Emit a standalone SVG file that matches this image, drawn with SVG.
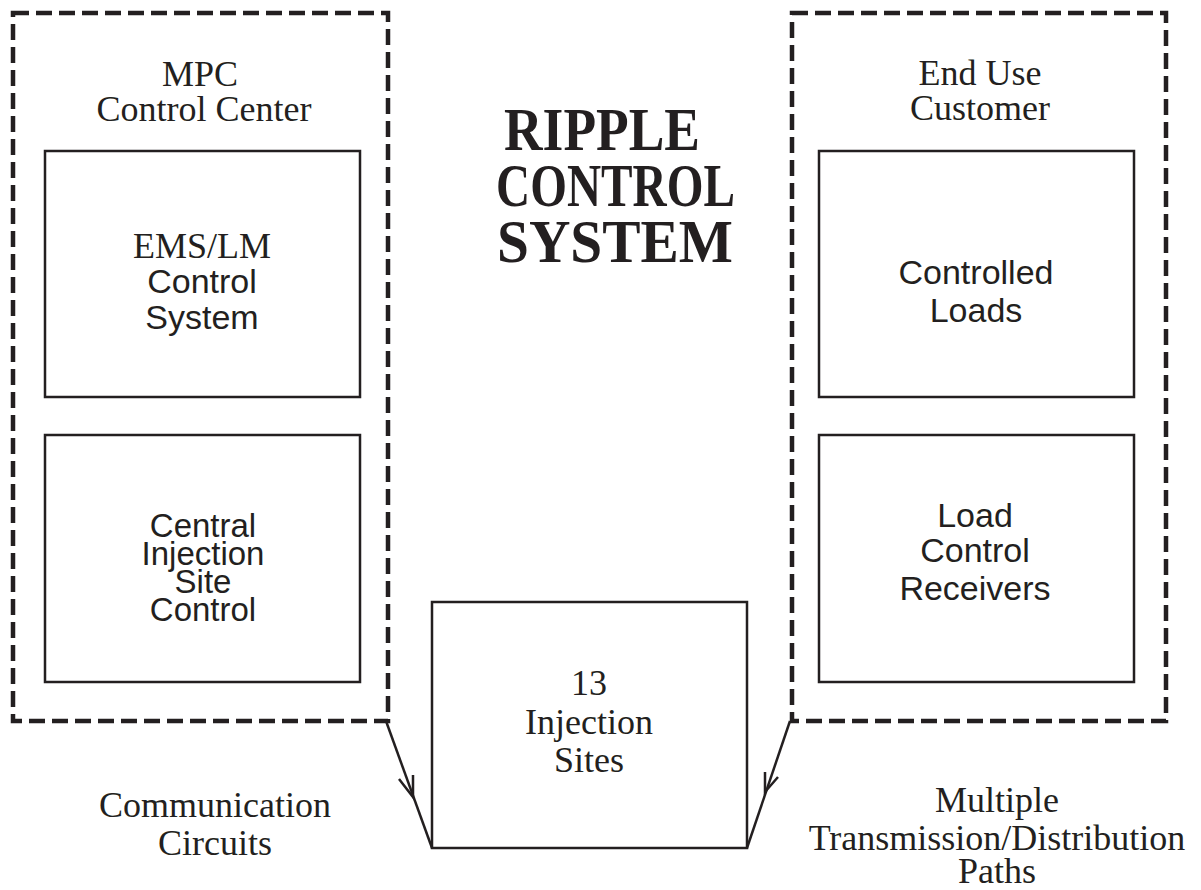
<svg xmlns="http://www.w3.org/2000/svg" width="1201" height="890" viewBox="0 0 1201 890">
  <style>
    .group { fill: none; stroke: #231f20; stroke-width: 4.5; stroke-dasharray: 16 7; }
    .box { fill: none; stroke: #231f20; stroke-width: 2.5; }
    .serif { font-family: "Liberation Serif", "Times New Roman", serif; font-size: 36px; fill: #231f20; text-anchor: middle; }
    .sans { font-family: "Liberation Sans", Arial, sans-serif; font-size: 34px; fill: #231f20; text-anchor: middle; }
    .tight { font-size: 33px; }
    .title { font-family: "Liberation Serif", "Times New Roman", serif; font-size: 61px; font-weight: bold; fill: #231f20; text-anchor: middle; }
    .link { fill: none; stroke: #231f20; stroke-width: 2.5; }
  </style>

  <!-- MPC control centre group -->
  <g id="mpc-control-center">
    <rect class="group" x="13" y="13" width="375" height="708"/>
    <text class="serif"><tspan x="200" y="86">MPC</tspan><tspan x="204" y="121">Control Center</tspan></text>
  </g>

  <g id="ems-lm">
    <rect class="box" x="45" y="151" width="315" height="246"/>
    <text class="serif" x="202" y="258">EMS/LM</text>
    <text class="sans"><tspan x="202" y="293">Control</tspan><tspan x="202" y="329">System</tspan></text>
  </g>

  <g id="central-injection">
    <rect class="box" x="45" y="435" width="315" height="247"/>
    <text class="sans tight"><tspan x="203" y="537">Central</tspan><tspan x="203" y="565">Injection</tspan><tspan x="203" y="593">Site</tspan><tspan x="203" y="621">Control</tspan></text>
  </g>

  <!-- Title -->
  <g id="title">
    <text class="title"><tspan x="602" y="150" textLength="196" lengthAdjust="spacingAndGlyphs">RIPPLE</tspan></text>
    <text class="title"><tspan x="615.5" y="206" textLength="239" lengthAdjust="spacingAndGlyphs">CONTROL</tspan></text>
    <text class="title"><tspan x="615" y="262" textLength="236" lengthAdjust="spacingAndGlyphs">SYSTEM</tspan></text>
  </g>

  <!-- End use customer group -->
  <g id="end-use-customer">
    <rect class="group" x="792" y="13" width="374" height="708"/>
    <text class="serif"><tspan x="980" y="85">End Use</tspan><tspan x="980" y="120">Customer</tspan></text>
  </g>

  <g id="controlled-loads">
    <rect class="box" x="819" y="151" width="315" height="246"/>
    <text class="sans"><tspan x="976" y="284">Controlled</tspan><tspan x="976" y="322">Loads</tspan></text>
  </g>

  <g id="load-control-receivers">
    <rect class="box" x="819" y="435" width="315" height="247"/>
    <text class="sans"><tspan x="975" y="527">Load</tspan><tspan x="975" y="562">Control</tspan><tspan x="975" y="600">Receivers</tspan></text>
  </g>

  <g id="injection-sites">
    <rect class="box" x="432" y="602" width="315" height="246"/>
    <text class="serif"><tspan x="589" y="695">13</tspan><tspan x="589" y="734">Injection</tspan><tspan x="589" y="772">Sites</tspan></text>
  </g>

  <!-- Connectors -->
  <g id="connectors">
    <path class="link" d="M386,721 L432,848"/>
    <path class="link" d="M399,779 L413,797 L413,775"/>
    <path class="link" d="M790,721 L747,848"/>
    <path class="link" d="M778,777 L765,792 L765,772"/>
  </g>

  <!-- Connector labels -->
  <g id="labels">
    <text class="serif"><tspan x="215" y="817">Communication</tspan><tspan x="215" y="855">Circuits</tspan></text>
    <text class="serif"><tspan x="997" y="812">Multiple</tspan><tspan x="997" y="850">Transmission/Distribution</tspan><tspan x="997" y="883">Paths</tspan></text>
  </g>
</svg>
